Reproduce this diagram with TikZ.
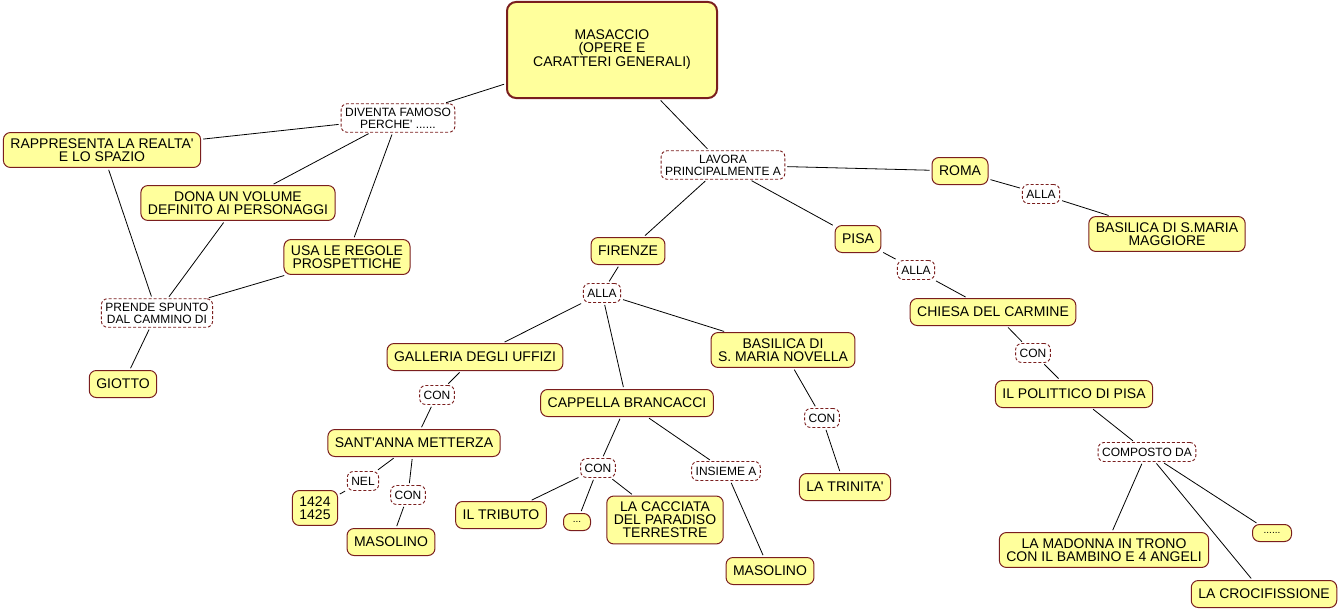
\documentclass[tikz,border=0pt]{standalone}
\usepackage{fontspec}
\newfontfamily\lib{Liberation Sans}
\definecolor{yel}{RGB}{255,255,156}
\definecolor{brd}{RGB}{122,30,30}
\begin{document}
\begin{tikzpicture}[x=1pt,y=-1pt,
  concept/.style={draw=brd, fill=yel, rounded corners=7pt, line width=1pt,
    font=\lib\fontsize{14}{13}\selectfont, align=center, inner xsep=7pt, inner ysep=6pt, minimum height=27pt},
  mainc/.style={concept, line width=2pt, rounded corners=9pt, minimum width=210pt, minimum height=96pt},
  link/.style={draw=brd, dash pattern=on 3pt off 2pt, fill=white, rounded corners=6pt, line width=0.9pt,
    font=\lib\fontsize{12}{12}\selectfont, align=center, inner xsep=4pt, inner ysep=4pt, minimum height=19pt},
  dotsc/.style={concept, font=\lib\fontsize{10}{10}\selectfont, minimum height=17pt, inner ysep=2pt},
  conn/.style={draw=black, line width=0.8pt, shorten <=2pt, shorten >=2pt}]
\useasboundingbox (0,0) rectangle (1341,610);
% nodes
\node[mainc] (mas) at (612,50) {MASACCIO\\(OPERE E\\CARATTERI GENERALI)};
\node[link] (div) at (398,118) {DIVENTA FAMOSO\\PERCHE' ......};
\node[concept] (rap) at (102,150) {RAPPRESENTA LA REALTA'\\E LO SPAZIO};
\node[concept] (don) at (238,203) {DONA UN VOLUME\\DEFINITO AI PERSONAGGI};
\node[concept] (usa) at (347,257) {USA LE REGOLE\\PROSPETTICHE};
\node[link] (pre) at (157,313) {PRENDE SPUNTO\\DAL CAMMINO DI};
\node[concept] (gio) at (123,384) {GIOTTO};
\node[link] (lav) at (723,165) {LAVORA\\PRINCIPALMENTE A};
\node[concept] (rom) at (960,171) {ROMA};
\node[link] (alr) at (1041,194) {ALLA};
\node[concept] (bmm) at (1167,234) {BASILICA DI S.MARIA\\MAGGIORE};
\node[concept] (fir) at (628,251) {FIRENZE};
\node[concept] (pis) at (858,239) {PISA};
\node[link] (alp) at (916,270) {ALLA};
\node[concept] (chi) at (993,312) {CHIESA DEL CARMINE};
\node[link] (conc) at (1033,353) {CON};
\node[concept] (pol) at (1074,394) {IL POLITTICO DI PISA};
\node[link] (com) at (1147,452) {COMPOSTO DA};
\node[concept] (mad) at (1104,550) {LA MADONNA IN TRONO\\CON IL BAMBINO E 4 ANGELI};
\node[dotsc, minimum width=39pt] (dtb) at (1272,533) {......};
\node[concept] (cro) at (1264,594) {LA CROCIFISSIONE};
\node[link] (alf) at (602,293) {ALLA};
\node[concept] (gal) at (475,357) {GALLERIA DEGLI UFFIZI};
\node[link] (conu) at (437,395) {CON};
\node[concept] (san) at (414,443) {SANT'ANNA METTERZA};
\node[link] (nel) at (363,481) {NEL};
\node[link] (conm) at (408,495) {CON};
\node[concept] (yrs) at (315,508) {1424\\1425};
\node[concept] (ms1) at (391,542) {MASOLINO};
\node[concept] (cap) at (627,403) {CAPPELLA BRANCACCI};
\node[link] (conp) at (598,468) {CON};
\node[link] (ins) at (726,471) {INSIEME A};
\node[concept] (tri) at (501,515) {IL TRIBUTO};
\node[dotsc, minimum width=27pt] (dta) at (577,522) {...};
\node[concept] (cac) at (665,520) {LA CACCIATA\\DEL PARADISO\\TERRESTRE};
\node[concept] (ms2) at (770,571) {MASOLINO};
\node[concept] (bsm) at (783,350) {BASILICA DI\\S. MARIA NOVELLA};
\node[link] (conn) at (822,418) {CON};
\node[concept] (trn) at (845,487) {LA TRINITA'};
% connectors
\begin{scope}[on background layer/.style={}]
\foreach \a/\b in {mas/div, mas/lav, div/rap, div/don, div/usa, rap/pre, don/pre, usa/pre, pre/gio,
  lav/fir, lav/pis, lav/rom, rom/alr, alr/bmm, pis/alp, alp/chi, chi/conc, conc/pol, pol/com,
  com/mad, com/cro, com/dtb, fir/alf, alf/gal, alf/cap, alf/bsm, gal/conu, conu/san, san/nel, nel/yrs,
  san/conm, conm/ms1, cap/conp, conp/tri, conp/dta, conp/cac, cap/ins, ins/ms2, bsm/conn, conn/trn}
  \draw[conn] (\a) -- (\b);
\end{scope}
\end{tikzpicture}
\end{document}
